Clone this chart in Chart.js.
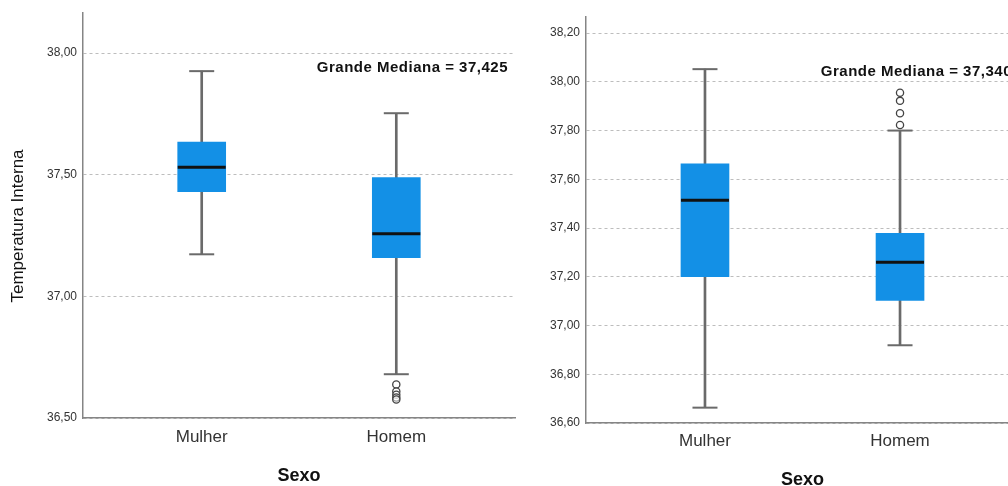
<!DOCTYPE html>
<html>
<head>
<meta charset="utf-8">
<script src="https://cdn.jsdelivr.net/npm/chart.js@4.4.1/dist/chart.umd.min.js"></script>
<style>
  html, body { margin: 0; padding: 0; background: #fff; overflow: hidden; }
  #page { position: relative; width: 1008px; height: 486px; overflow: hidden; }
  .panel { position: absolute; top: 0; height: 486px; }
</style>
</head>
<body>
<div id="page">
  <div class="panel" style="left:0;width:520px"><canvas id="leftChart"></canvas></div>
  <div class="panel" style="left:520px;width:500px"><canvas id="rightChart"></canvas></div>
</div>
<script>
const categories = ["Mulher", "Homem"];

// Left panel (five-number summary per category)
const leftMin = [37.173, 36.68];
const leftQ1 = [37.43, 37.159];
const leftMedian = [37.531, 37.257];
const leftQ3 = [37.634, 37.488];
const leftMax = [37.926, 37.753];
const leftOutliersHomem = [36.638, 36.609, 36.596, 36.584, 36.576];
const leftTicks = [36.5, 37.0, 37.5, 38.0];
const leftGrandMedian = "37,425";

// Right panel
const rightMin = [36.663, 36.919];
const rightQ1 = [37.2, 37.103];
const rightMedian = [37.514, 37.26];
const rightQ3 = [37.664, 37.378];
const rightMax = [38.052, 37.8];
const rightOutliersHomem = [37.955, 37.922, 37.871, 37.823];
const rightTicks = [36.6, 36.8, 37.0, 37.2, 37.4, 37.6, 37.8, 38.0, 38.2];
const rightGrandMedian = "37,340";

const boxColor = "#1390e6";
const whiskerColor = "#6a6a6a";
const axisColor = "#858585";

Chart.defaults.font.family = '"Liberation Sans", Arial, sans-serif';

// Axis titles and the "Grande Mediana" note
const panelText = {
  id: "panelText",
  afterDraw(chart, args, opts) {
    const { ctx, chartArea } = chart;
    ctx.save();
    ctx.fillStyle = "#111";

    ctx.font = 'bold 15px "Liberation Sans", Arial, sans-serif';
    ctx.letterSpacing = "0.5px";
    ctx.textAlign = "right";
    ctx.textBaseline = "alphabetic";
    ctx.fillText("Grande Mediana = " + opts.grandMedian, chartArea.right - 7, chartArea.top + 59);
    ctx.letterSpacing = "0px";

    ctx.font = 'bold 18px "Liberation Sans", Arial, sans-serif';
    ctx.textAlign = "center";
    ctx.textBaseline = "middle";
    ctx.fillText("Sexo", (chartArea.left + chartArea.right) / 2, opts.xTitleY);

    if (opts.yTitle) {
      ctx.translate(18, 226);
      ctx.rotate(-Math.PI / 2);
      ctx.font = '17px "Liberation Sans", Arial, sans-serif';
      ctx.fillText(opts.yTitle, 0, 0);
    }
    ctx.restore();
  },
};

function buildPanel(canvasId, s, cfg) {
  const ctx = document.getElementById(canvasId).getContext("2d");
  const xs = categories.map((c, i) => i + 1);
  const pts = (arr) => arr.map((v, i) => ({ x: xs[i], y: v }));

  return new Chart(ctx, {
    type: "bar",
    data: {
      datasets: [
        {
          label: "whisker",
          data: xs.map((x, i) => ({ x: x, y: [s.min[i], s.max[i]] })),
          backgroundColor: whiskerColor,
          barThickness: 2,
          grouped: false,
          order: 5,
        },
        {
          label: "box",
          data: xs.map((x, i) => ({ x: x, y: [s.q1[i], s.q3[i]] })),
          backgroundColor: boxColor,
          barThickness: 48,
          grouped: false,
          order: 4,
        },
        {
          type: "scatter",
          label: "median",
          data: pts(s.median),
          pointStyle: "line",
          pointRadius: 24,
          pointBorderWidth: 3,
          pointBorderColor: "#111",
          order: 3,
        },
        {
          type: "scatter",
          label: "caps",
          data: pts(s.max).concat(pts(s.min)),
          pointStyle: "line",
          pointRadius: 12.5,
          pointBorderWidth: 2,
          pointBorderColor: whiskerColor,
          order: 2,
        },
        {
          type: "scatter",
          label: "outliers",
          data: s.outliers.map((v) => ({ x: 2, y: v })),
          pointStyle: "circle",
          pointRadius: 3.6,
          pointBorderWidth: 1.3,
          pointBorderColor: "#444",
          pointBackgroundColor: "rgba(255,255,255,0.5)",
          order: 1,
        },
      ],
    },
    options: {
      responsive: true,
      maintainAspectRatio: false,
      animation: false,
      events: [],
      layout: { autoPadding: false, padding: { top: cfg.top, right: cfg.right, left: 0, bottom: 0 } },
      plugins: {
        legend: { display: false },
        tooltip: { enabled: false },
        panelText: { grandMedian: cfg.grandMedian, xTitleY: cfg.xTitleY, yTitle: cfg.yTitle },
      },
      scales: {
        x: {
          type: "linear",
          offset: false,
          min: 0.39,
          max: 2.61,
          afterBuildTicks: (sc) => { sc.ticks = xs.map((v) => ({ value: v })); },
          afterFit: (sc) => {
            sc.height = cfg.xAxisHeight;
            sc.paddingLeft = 0;
            sc.paddingRight = 0;
          },
          grid: { display: false, drawTicks: false, offset: false },
          border: { display: true, color: axisColor, width: 1.5 },
          ticks: {
            padding: cfg.xTickPad,
            color: "#333",
            font: { size: 17 },
            callback: (v) => categories[Math.round(v) - 1],
          },
        },
        y: {
          min: cfg.yMin,
          max: cfg.yMax,
          afterBuildTicks: (sc) => { sc.ticks = cfg.ticks.map((v) => ({ value: v })); },
          afterFit: (sc) => {
            sc.width = cfg.yAxisWidth;
            sc.paddingTop = 0;
            sc.paddingBottom = 0;
          },
          grid: { color: "#bdbdbd", lineWidth: 1, drawTicks: false },
          border: { display: true, color: axisColor, width: 1.5, dash: [3, 3] },
          ticks: {
            padding: 6,
            color: "#333",
            font: { size: 12 },
            callback: (v) => v.toFixed(2).replace(".", ","),
          },
        },
      },
    },
    plugins: [panelText],
  });
}

buildPanel(
  "leftChart",
  { min: leftMin, q1: leftQ1, median: leftMedian, q3: leftQ3, max: leftMax, outliers: leftOutliersHomem },
  {
    top: 13, right: 5, yAxisWidth: 83, xAxisHeight: 68, xTickPad: 9,
    yMin: 36.5, yMax: 38.165, ticks: leftTicks,
    grandMedian: leftGrandMedian, xTitleY: 476, yTitle: "Temperatura Interna",
  }
);

buildPanel(
  "rightChart",
  { min: rightMin, q1: rightQ1, median: rightMedian, q3: rightQ3, max: rightMax, outliers: rightOutliersHomem },
  {
    top: 17, right: 1, yAxisWidth: 66, xAxisHeight: 63, xTickPad: 8,
    yMin: 36.6, yMax: 38.266, ticks: rightTicks,
    grandMedian: rightGrandMedian, xTitleY: 480, yTitle: null,
  }
);
</script>
</body>
</html>
